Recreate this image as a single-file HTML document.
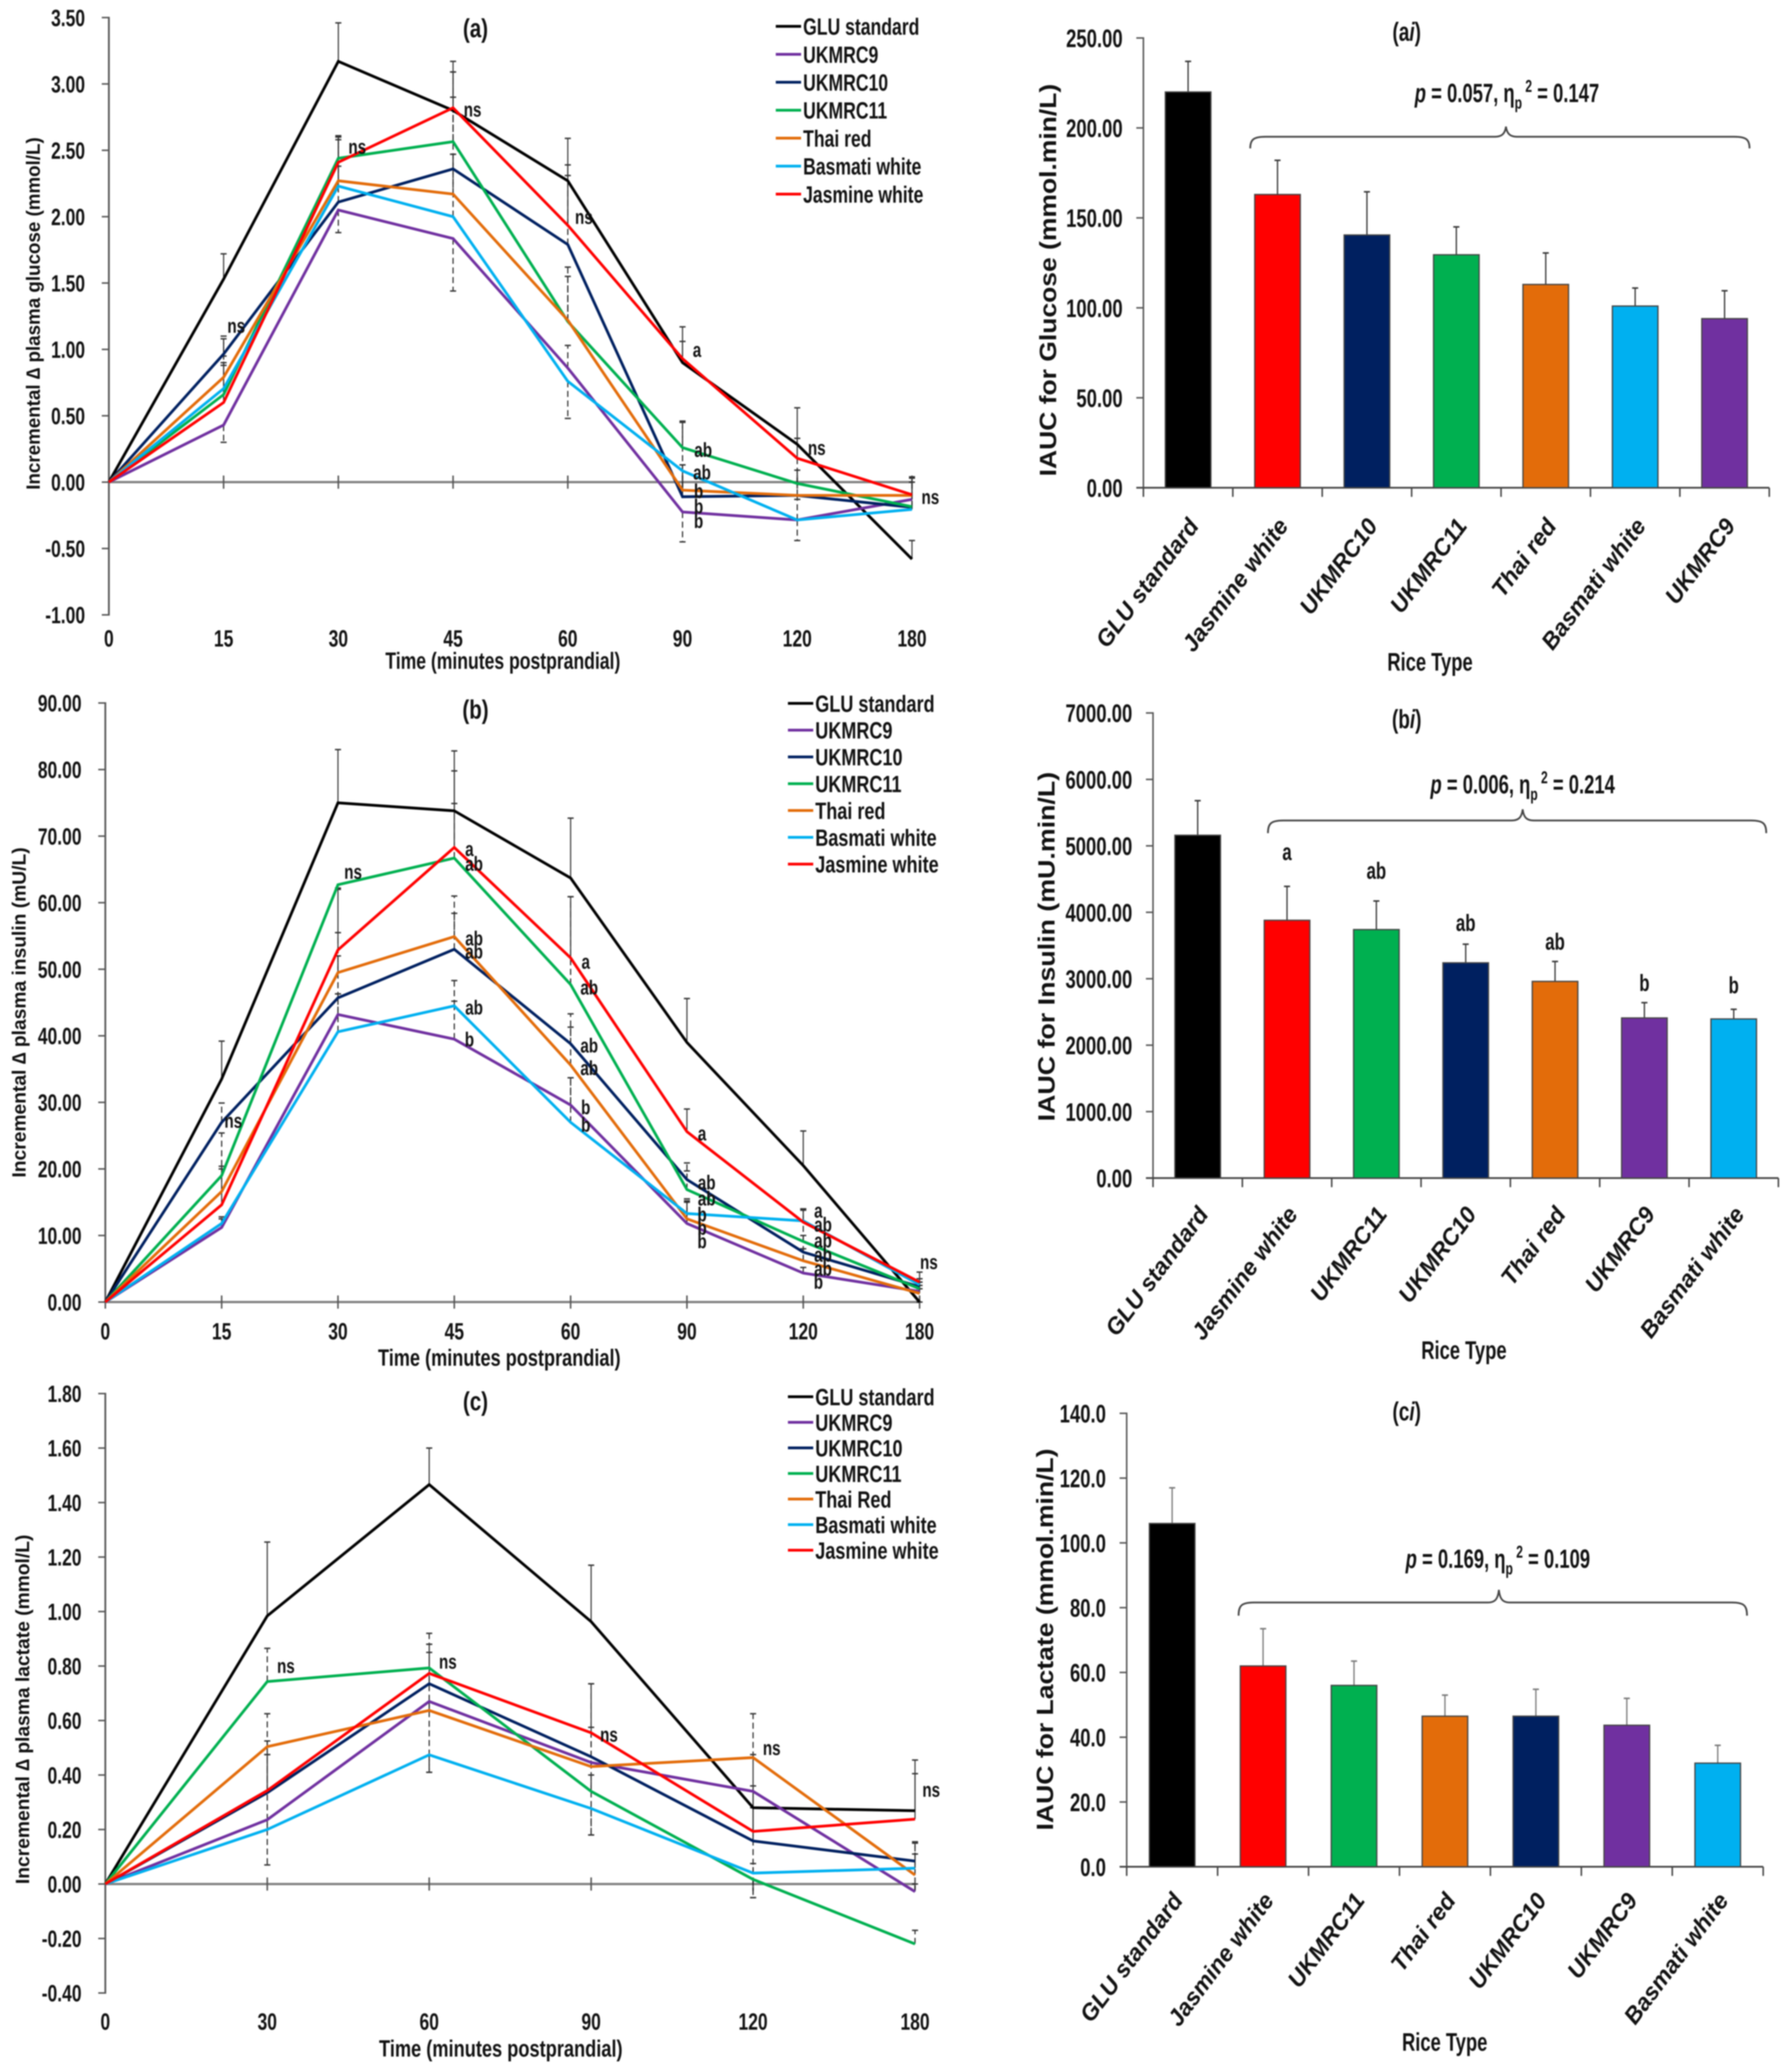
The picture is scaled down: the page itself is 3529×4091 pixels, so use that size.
<!DOCTYPE html>
<html lang="en">
<head>
<meta charset="utf-8">
<title>Glucose, insulin and lactate responses by rice type</title>
<style>
html,body{margin:0;padding:0;background:#fff;width:3529px;height:4091px;overflow:hidden}
svg{display:block;filter:blur(1.3px)}
text{font-family:"Liberation Sans",sans-serif;fill:#111}
</style>
</head>
<body>
<svg id="fig" xmlns="http://www.w3.org/2000/svg" width="3529" height="4091" viewBox="0 0 3529 4091"></svg>
<script>
/* ---- shared data ---- */
const seriesNames = ['GLU standard','UKMRC9','UKMRC10','UKMRC11','Thai red','Basmati white','Jasmine white'];
const seriesNamesC = ['GLU standard','UKMRC9','UKMRC10','UKMRC11','Thai Red','Basmati white','Jasmine white'];
const seriesColors = ['#000000','#7030A0','#002060','#00B050','#E36C0A','#00B0F0','#FF0000'];
const colorByName = {'GLU standard':'#000000','UKMRC9':'#7030A0','UKMRC10':'#002060','UKMRC11':'#00B050','Thai red':'#E36C0A','Basmati white':'#00B0F0','Jasmine white':'#FF0000'};

/* ---- chart (a) glucose ---- */
const timesA = ['0','15','30','45','60','90','120','180'];
const yTicksA = ['3.50','3.00','2.50','2.00','1.50','1.00','0.50','0.00','-0.50','-1.00'];
const aGlu  = [0,1.53,3.17,2.80,2.27,0.90,0.285,-0.58];
const a9    = [0,0.43,2.05,1.835,0.86,-0.225,-0.285,-0.13];
const a10   = [0,0.965,2.11,2.36,1.79,-0.11,-0.10,-0.19];
const a11   = [0,0.66,2.44,2.565,1.21,0.26,-0.01,-0.185];
const aThai = [0,0.79,2.27,2.17,1.22,-0.06,-0.10,-0.10];
const aBas  = [0,0.705,2.23,2.00,0.76,0.085,-0.285,-0.205];
const aJas  = [0,0.60,2.41,2.82,1.935,0.93,0.18,-0.095];
const aGluErr  = [null,1.72,3.46,3.09,2.59,1.17,0.56,-0.44];
const a9Err    = [null,0.30,1.88,1.44,1.03,-0.45,-0.44,0.0];
const a10Err   = [null,1.10,2.58,2.90,2.31,0.13,0.09,0.0];
const a11Err   = [null,0.88,2.60,3.09,1.62,0.46,0.33,0.03];
const aThaiErr = [null,1.08,2.61,2.47,1.55,0.13,-0.13,0.04];
const aBasErr  = [null,0.95,2.60,2.47,0.48,0.45,-0.13,0.0];
const aJasErr  = [null,0.90,2.38,3.17,2.39,1.06,0.33,0.03];
const aNoteIdx = [1.11,2.165,3.17,4.14,5.126,5.18,5.17,5.14,5.14,5.14,6.17,7.16];
const aNoteVal = [1.18,2.53,2.81,2.0,1.0,0.245,0.075,-0.065,-0.18,-0.29,0.26,-0.11];
const aNoteTxt = ['ns','ns','ns','ns','a','ab','ab','b','b','b','ns','ns'];

/* ---- chart (b) insulin ---- */
const yTicksB = ['90.00','80.00','70.00','60.00','50.00','40.00','30.00','20.00','10.00','0.00'];
const bGlu  = [0,33.5,75,73.8,63.7,39,20.5,0];
const b9    = [0,11.2,43.2,39.5,29.6,11.8,4.35,1.6];
const b10   = [0,27,45.7,53,38.8,18.4,7.5,2.3];
const b11   = [0,19,62.7,66.7,47.7,16.9,9.1,2];
const bThai = [0,16.6,49.5,54.9,35.6,12.5,6.2,1.3];
const bBas  = [0,11.8,40.6,44.5,27,13.3,12.2,2.6];
const bJas  = [0,14.6,52.9,68.3,51.7,25.6,12,3];
const bGluErr  = [null,39.2,83,79.8,72.7,45.6,25.7,0];
const b9Err    = [null,12.8,46.3,45.2,33.7,15,5.2,2.5];
const b10Err   = [null,29.9,52,58.4,41.3,19.7,10,3];
const b11Err   = [null,25.4,62.2,74.9,60.9,20.9,13.8,3];
const bThaiErr = [null,20.4,55.5,61,43.3,15.5,8,2];
const bBasErr  = [null,12.5,46.3,48.3,33.7,15.2,14,3.5];
const bJasErr  = [null,20,62,82.8,60.9,29,14,4.5];
const bNoteIdx = [1.10,2.13,3.13,3.17,3.17,3.17,3.17,3.13,4.13,4.16,4.16,4.16,4.13,4.13,5.13,5.17,5.17,5.13,5.13,5.13,6.13,6.17,6.17,6.17,6.17,6.13,7.08];
const bNoteVal = [27.3,64.7,68.1,65.9,54.7,52.7,44.3,39.5,51.2,47.3,38.6,35.2,29.3,26.7,25.4,18,15.6,13.2,11.2,9.2,13.8,11.7,9.3,7.15,5.07,3.1,6.05];
const bNoteTxt = ['ns','ns','a','ab','ab','ab','ab','b','a','ab','ab','ab','b','b','a','ab','ab','b','b','b','a','ab','ab','ab','ab','b','ns'];

/* ---- chart (c) lactate ---- */
const timesC = ['0','30','60','90','120','180'];
const yTicksC = ['1.80','1.60','1.40','1.20','1.00','0.80','0.60','0.40','0.20','0.00','-0.20','-0.40'];
const cGlu  = [0,0.984,1.466,0.963,0.28,0.269];
const c9    = [0,0.236,0.67,0.446,0.34,-0.028];
const c10   = [0,0.335,0.735,0.467,0.158,0.084];
const c11   = [0,0.743,0.793,0.34,0.017,-0.22];
const cThai = [0,0.504,0.637,0.431,0.464,0.033];
const cBas  = [0,0.20,0.474,0.277,0.04,0.058];
const cJas  = [0,0.343,0.773,0.555,0.193,0.238];
const cGluErr  = [null,1.255,1.60,1.17,0.28,0.455];
const c9Err    = [null,0.07,0.41,0.18,-0.05,0.0];
const c10Err   = [null,0.525,0.88,0.575,0.36,0.155];
const c11Err   = [null,0.865,0.92,0.40,-0.05,-0.17];
const cThaiErr = [null,0.625,0.85,0.735,0.625,0.11];
const cBasErr  = [null,0.475,0.41,0.18,0.075,0.15];
const cJasErr  = [null,0.475,0.88,0.735,0.475,0.405];
const cNoteIdx = [1.115,2.115,3.11,4.115,5.10];
const cNoteVal = [0.802,0.817,0.55,0.50,0.347];
const cNoteTxt = ['ns','ns','ns','ns','ns'];

/* ---- bar chart (ai) ---- */
const aiCats = ['GLU standard','Jasmine white','UKMRC10','UKMRC11','Thai red','Basmati white','UKMRC9'];
const aiVals = [220,163,140.5,129.5,113,101,94];
const aiErrs = [237,182,164.5,145,130.5,111,109.5];
const aiTicks = ['250.00','200.00','150.00','100.00','50.00','0.00'];

/* ---- bar chart (bi) ---- */
const biCats = ['GLU standard','Jasmine white','UKMRC11','UKMRC10','Thai red','UKMRC9','Basmati white'];
const biVals = [5160,3880,3740,3240,2960,2410,2395];
const biErrs = [5680,4390,4170,3520,3260,2640,2540];
const biTicks = ['7000.00','6000.00','5000.00','4000.00','3000.00','2000.00','1000.00','0.00'];
const biLetters = ['','a','ab','ab','ab','b','b'];
const biLetterVals = [0,4912,4630,3848,3566,2942,2909];

/* ---- bar chart (ci) ---- */
const ciCats = ['GLU standard','Jasmine white','UKMRC11','Thai red','UKMRC10','UKMRC9','Basmati white'];
const ciVals = [106,62,56,46.5,46.5,43.7,32];
const ciErrs = [117,73.5,63.5,53,54.8,52,37.5];
const ciTicks = ['140.0','120.0','100.0','80.0','60.0','40.0','20.0','0.0'];

const SVGNS = 'http://www.w3.org/2000/svg';
const fig = document.getElementById('fig');

function mk(parent, tag, attrs, name){
  const el = document.createElementNS(SVGNS, tag);
  for (const k in attrs) el.setAttribute(k, attrs[k]);
  
  
  parent.appendChild(el);
  return el;
}
function group(parent, name){ return mk(parent, 'g', {}, name); }

function T(parent, name, str, x, y, o){
  o = o || {};
  const size = o.size || 40, rot = o.rot || 0, sx = o.sx || 1;
  const a = {
    transform: 'translate(' + x + ',' + y + ') rotate(' + rot + ') scale(' + sx + ',1)',
    y: (0.36 * size).toFixed(1),
    'font-size': size,
    'font-weight': o.weight || 'bold',
    'text-anchor': o.anchor || 'middle'
  };
  if (o.italic) a['font-style'] = 'italic';
  if (o.len) { a.textLength = o.len; a.lengthAdjust = 'spacingAndGlyphs'; }
  const t = mk(parent, 'text', a, name);
  if (o.html) t.innerHTML = str; else t.textContent = str;
  return t;
}

function slug(s){ return s.toLowerCase().replace(/[^a-z0-9]+/g, '-'); }

function lineChart(c){
  const g = group(fig, 'chart-' + c.id);
  const X = i => c.x0 + (c.x1 - c.x0) * i / (c.times.length - 1);
  const Y = v => c.yTop + (c.vTop - v) / (c.vTop - c.vBot) * (c.yBot - c.yTop);

  // axes
  mk(g, 'line', {x1:c.x0, x2:c.x0, y1:c.yTop - 1.5, y2:c.yBot + 1.5, stroke:'#555', 'stroke-width':3.5}, 'y-axis');
  c.yTicks.forEach(lbl => {
    const v = parseFloat(lbl), y = Y(v);
    mk(g, 'line', {x1:c.x0 - 14, x2:c.x0, y1:y, y2:y, stroke:'#555', 'stroke-width':3}, 'y-tick-' + lbl);
    T(g, 'y-tick-label-' + lbl, lbl, c.x0 - 47, y, {size:46, sx:0.75, anchor:'end'});
  });
  const y0 = Y(0);
  mk(g, 'line', {x1:c.x0, x2:c.x1, y1:y0, y2:y0, stroke:'#808080', 'stroke-width':4.5}, 'x-axis');
  c.times.forEach((lbl, i) => {
    mk(g, 'line', {x1:X(i), x2:X(i), y1:y0 - 13, y2:y0 + 13, stroke:'#555', 'stroke-width':3}, 'x-tick-' + lbl);
    T(g, 'x-tick-label-' + lbl, lbl, X(i), c.tickY, {size:46, sx:0.75});
  });

  // error bars
  c.series.forEach((s, k) => {
    const eg = group(g, 'error-bars-' + slug(c.names[k]));
    const solid = k === 0 || k === 6;
    s.err.forEach((e, i) => {
      if (e === null) return;
      const px = X(i), a = Y(s.vals[i]), b = Y(e);
      mk(eg, 'line', {x1:px, x2:px, y1:a, y2:b, stroke: solid ? '#333' : '#222', 'stroke-width':2.2,
        'stroke-dasharray': solid ? 'none' : '12 7'}, 'error-stem');
      mk(eg, 'line', {x1:px - 6, x2:px + 6, y1:b, y2:b, stroke:'#333', 'stroke-width':2.8}, 'error-cap');
    });
  });

  // series lines
  c.series.forEach((s, k) => {
    const pts = s.vals.map((v, i) => X(i).toFixed(1) + ',' + Y(v).toFixed(1)).join(' ');
    mk(g, 'polyline', {points:pts, fill:'none', stroke:seriesColors[k], 'stroke-width':5.5, 'stroke-linejoin':'miter'}, 'line-' + slug(c.names[k]));
  });

  // significance notes
  c.noteTxt.forEach((txt, i) => {
    T(g, 'significance-' + txt, txt, X(c.noteIdx[i]), Y(c.noteVal[i]), {size:40, sx:0.75});
  });

  // title + axis titles
  T(g, 'chart-title', c.title, c.titleX, c.titleY, {size:52, sx:0.78});
  T(g, 'x-axis-title', 'Time (minutes postprandial)', c.xtX, c.xtY, {size:46, len:c.xtLen});
  T(g, 'y-axis-title', c.yTitle, c.ytX, c.ytY, {size:38, rot:-90, len:c.ytLen});

  // legend
  const lg = group(g, 'legend');
  c.names.forEach((n, k) => {
    const y = c.legY + c.legStep * k;
    const e = group(lg, 'legend-entry-' + slug(n));
    mk(e, 'line', {x1:c.legX, x2:c.legX + 50, y1:y, y2:y, stroke:seriesColors[k], 'stroke-width':5.5}, 'legend-swatch');
    T(e, 'legend-label', n, c.legX + 54, y, {size:46, sx:c.legSx, anchor:'start'});
  });
}

function brace(g, x0, x1, xc, yTop, yMid, yBot){
  const d = 'M' + x0 + ' ' + yBot +
    ' C' + x0 + ' ' + (yMid + 6) + ' ' + (x0 + 6) + ' ' + yMid + ' ' + (x0 + 30) + ' ' + yMid +
    ' L' + (xc - 22) + ' ' + yMid +
    ' C' + (xc - 8) + ' ' + yMid + ' ' + (xc - 2) + ' ' + (yMid - 6) + ' ' + xc + ' ' + yTop +
    ' C' + (xc + 2) + ' ' + (yMid - 6) + ' ' + (xc + 8) + ' ' + yMid + ' ' + (xc + 22) + ' ' + yMid +
    ' L' + (x1 - 30) + ' ' + yMid +
    ' C' + (x1 - 6) + ' ' + yMid + ' ' + x1 + ' ' + (yMid + 6) + ' ' + x1 + ' ' + yBot;
  mk(g, 'path', {d:d, fill:'none', stroke:'#444', 'stroke-width':3.5}, 'group-brace');
}

function barChart(c){
  const g = group(fig, 'chart-' + c.id);
  const step = (c.x1 - c.x0) / c.cats.length;
  const CX = i => c.x0 + step * (i + 0.5);
  const Y = v => c.yTop + (c.vTop - v) / c.vTop * (c.yBot - c.yTop);

  mk(g, 'line', {x1:c.x0, x2:c.x0, y1:c.yTop - 1.5, y2:c.yBot, stroke:'#555', 'stroke-width':3}, 'y-axis');
  c.ticks.forEach(lbl => {
    const y = Y(parseFloat(lbl));
    mk(g, 'line', {x1:c.x0 - 14, x2:c.x0, y1:y, y2:y, stroke:'#555', 'stroke-width':3}, 'y-tick-' + lbl);
    T(g, 'y-tick-label-' + lbl, lbl, c.x0 - 41, y, {size:50, sx:0.73, anchor:'end'});
  });
  mk(g, 'line', {x1:c.x0 - 14, x2:c.x1, y1:c.yBot, y2:c.yBot, stroke:'#444', 'stroke-width':3.5}, 'x-axis');
  for (let i = 0; i <= c.cats.length; i++) {
    const x = c.x0 + step * i;
    mk(g, 'line', {x1:x, x2:x, y1:c.yBot, y2:c.yBot + 18, stroke:'#444', 'stroke-width':3}, 'x-tick');
  }
  c.cats.forEach((n, i) => {
    const cx = CX(i), top = Y(c.vals[i]), et = Y(c.errs[i]);
    const stemCol = c.thinErr ? '#777' : '#333';
    mk(g, 'line', {x1:cx, x2:cx, y1:top, y2:et, stroke:stemCol, 'stroke-width':2.5}, 'error-stem-' + slug(n));
    mk(g, 'line', {x1:cx - 6, x2:cx + 6, y1:et, y2:et, stroke:stemCol, 'stroke-width':3}, 'error-cap-' + slug(n));
    mk(g, 'rect', {x:cx - 45, y:top, width:90, height:c.yBot - top, fill:colorByName[n], stroke:'#444', 'stroke-width':2.5}, 'bar-' + slug(n));
    T(g, 'category-label-' + slug(n), n, cx + 10, c.yBot + c.catDy, {size:46, italic:true, rot:-53, anchor:'end'});
    if (c.letters && c.letters[i]) T(g, 'significance-' + c.letters[i], c.letters[i], cx, Y(c.letterVals[i]), {size:46, sx:0.72});
  });

  T(g, 'chart-title', c.titleHtml, c.titleX, c.titleY, {size:52, sx:0.72, html:true});
  T(g, 'x-axis-title', 'Rice Type', c.xtX, c.xtY, {size:50, sx:0.725});
  T(g, 'y-axis-title', c.yTitle, c.ytX, c.ytY, {size:46, rot:-90, len:c.ytLen});
  T(g, 'anova-statistic', c.statHtml, c.statX, c.statY, {size:52, sx:0.7, html:true});
  brace(g, c.br[0], c.br[1], c.br[2], c.br[3], c.br[4], c.br[5]);
}

function stat(p, eta){
  return '<tspan font-style="italic">p</tspan> = ' + p + ', \u03b7' +
    '<tspan dy="13" font-size="34">p</tspan><tspan dy="-33" font-size="34">\u00a02</tspan><tspan dy="20"> = ' + eta + '</tspan>';
}

lineChart({
  id:'a-glucose', times:timesA, yTicks:yTicksA, names:seriesNames,
  x0:215, x1:1801, yTop:34.7, yBot:1214, vTop:3.5, vBot:-1.0, tickY:1260,
  series:[{vals:aGlu,err:aGluErr},{vals:a9,err:a9Err},{vals:a10,err:a10Err},{vals:a11,err:a11Err},{vals:aThai,err:aThaiErr},{vals:aBas,err:aBasErr},{vals:aJas,err:aJasErr}],
  noteIdx:aNoteIdx, noteVal:aNoteVal, noteTxt:aNoteTxt,
  title:'(a)', titleX:939, titleY:55,
  xtX:993, xtY:1304, xtLen:464,
  yTitle:'Incremental \u2206 plasma glucose (mmol/L)', ytX:65, ytY:619, ytLen:696,
  legX:1532, legY:52, legStep:55.2, legSx:0.755
});

lineChart({
  id:'b-insulin', times:timesA, yTicks:yTicksB, names:seriesNames,
  x0:208, x1:1816, yTop:1388, yBot:2570.8, vTop:90, vBot:0, tickY:2628,
  series:[{vals:bGlu,err:bGluErr},{vals:b9,err:b9Err},{vals:b10,err:b10Err},{vals:b11,err:b11Err},{vals:bThai,err:bThaiErr},{vals:bBas,err:bBasErr},{vals:bJas,err:bJasErr}],
  noteIdx:bNoteIdx, noteVal:bNoteVal, noteTxt:bNoteTxt,
  title:'(b)', titleX:939, titleY:1400,
  xtX:986, xtY:2680, xtLen:479,
  yTitle:'Incremental \u2206 plasma insulin (mU/L)', ytX:37, ytY:1999, ytLen:652,
  legX:1556, legY:1388.7, legStep:52.9, legSx:0.775
});

lineChart({
  id:'c-lactate', times:timesC, yTicks:yTicksC, names:seriesNamesC,
  x0:208, x1:1807, yTop:2751.5, yBot:3935, vTop:1.8, vBot:-0.4, tickY:3991,
  series:[{vals:cGlu,err:cGluErr},{vals:c9,err:c9Err},{vals:c10,err:c10Err},{vals:c11,err:c11Err},{vals:cThai,err:cThaiErr},{vals:cBas,err:cBasErr},{vals:cJas,err:cJasErr}],
  noteIdx:cNoteIdx, noteVal:cNoteVal, noteTxt:cNoteTxt,
  title:'(c)', titleX:939, titleY:2766,
  xtX:989, xtY:4044, xtLen:481,
  yTitle:'Incremental \u2206 plasma lactate (mmol/L)', ytX:44, ytY:3375, ytLen:690,
  legX:1556, legY:2757.7, legStep:50.5, legSx:0.775
});

barChart({
  id:'ai-glucose-auc', cats:aiCats, vals:aiVals, errs:aiErrs, ticks:aiTicks,
  x0:2258, x1:3494, yTop:75, yBot:963, vTop:250, catDy:66,
  titleHtml:'(a<tspan font-style="italic">i</tspan>)', titleX:2778, titleY:62,
  xtX:2824, xtY:1306,
  yTitle:'IAUC for Glucose (mmol.min/L)', ytX:2069, ytY:553, ytLen:775,
  statHtml:stat('0.057','0.147'), statX:2976, statY:183,
  br:[2469,3455,2974,250,270,293]
});

barChart({
  id:'bi-insulin-auc', cats:biCats, vals:biVals, errs:biErrs, ticks:biTicks,
  letters:biLetters, letterVals:biLetterVals,
  x0:2277, x1:3512, yTop:1407.7, yBot:2326, vTop:7000, catDy:62,
  titleHtml:'(b<tspan font-style="italic">i</tspan>)', titleX:2778, titleY:1419,
  xtX:2891, xtY:2665,
  yTitle:'IAUC for Insulin (mU.min/L)', ytX:2066, ytY:1869, ytLen:690,
  statHtml:stat('0.006','0.214'), statX:3007, statY:1548,
  br:[2504,3488,3007,1598,1620,1645]
});

barChart({
  id:'ci-lactate-auc', cats:ciCats, vals:ciVals, errs:ciErrs, ticks:ciTicks, thinErr:true,
  x0:2225, x1:3482, yTop:2790.5, yBot:3685.8, vTop:140, catDy:57,
  titleHtml:'(c<tspan font-style="italic">i</tspan>)', titleX:2778, titleY:2786,
  xtX:2853, xtY:4031,
  yTitle:'IAUC for Lactate (mmol.min/L)', ytX:2063, ytY:3237, ytLen:754,
  statHtml:stat('0.169','0.109'), statX:2958, statY:3077,
  br:[2446,3450,2960,3139,3164,3190]
});
</script>
</body>
</html>
